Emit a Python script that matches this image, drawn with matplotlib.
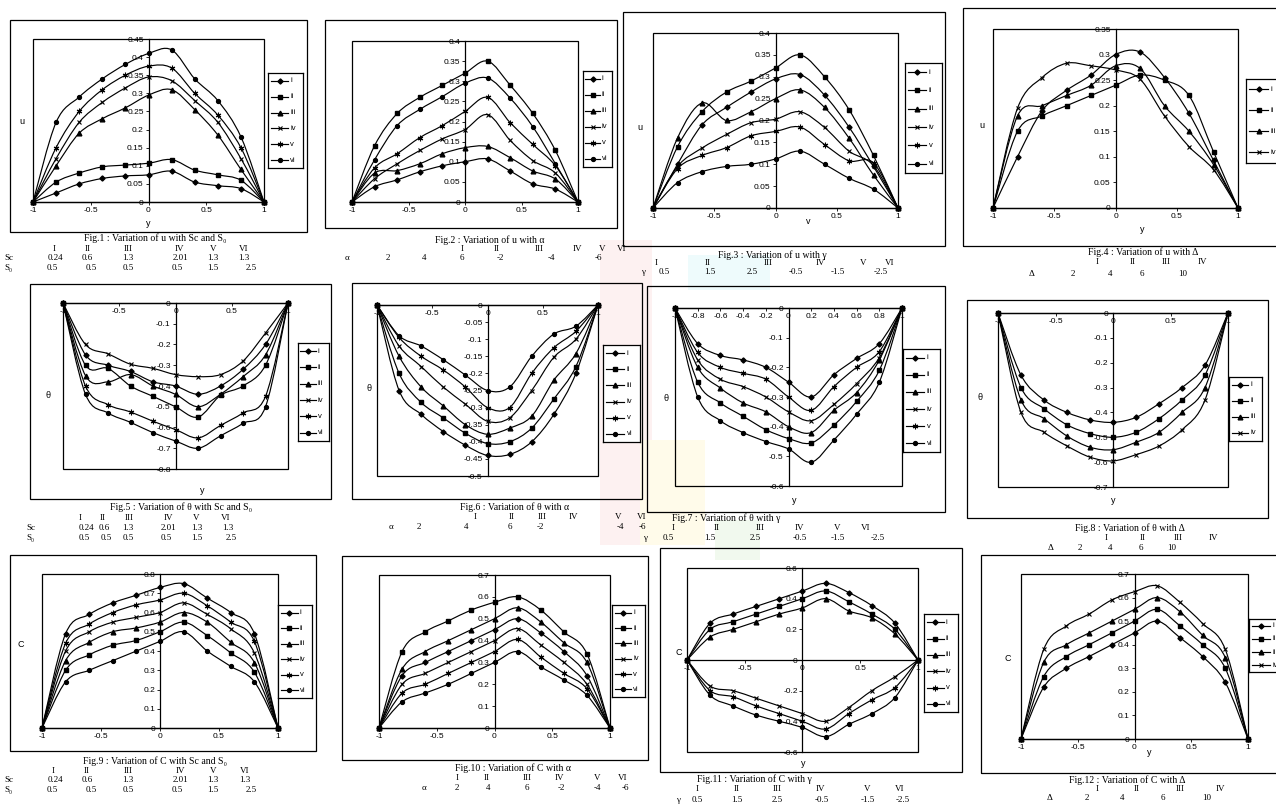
import numpy as np
import matplotlib
matplotlib.use('Agg')
import matplotlib.pyplot as plt
from matplotlib.path import Path
from matplotlib.patches import PathPatch, Rectangle
from matplotlib.ticker import MultipleLocator, FuncFormatter

# ---- data ---------------------------------------------------------------
y_pos = [-1, -0.8, -0.6, -0.4, -0.2, 0, 0.2, 0.4, 0.6, 0.8, 1]
labels6 = ['i', 'ii', 'iii', 'iv', 'v', 'vi']
labels4 = ['i', 'ii', 'iii', 'iv']

roman6 = ['I', 'II', 'III', 'IV', 'V', 'VI']
roman4 = ['I', 'II', 'III', 'IV']
sc_vals = ['0.24', '0.6', '1.3', '2.01', '1.3', '1.3']
s0_vals = ['0.5', '0.5', '0.5', '0.5', '1.5', '2.5']
alpha_vals = ['2', '4', '6', '-2', '-4', '-6']
gamma_vals = ['0.5', '1.5', '2.5', '-0.5', '-1.5', '-2.5']
delta_vals = ['2', '4', '6', '10']

# Fig.1  u vs y, Sc and S0
u_sc = [
    [0, 0.025, 0.05, 0.065, 0.072, 0.075, 0.085, 0.055, 0.045, 0.037, 0],
    [0, 0.055, 0.08, 0.097, 0.102, 0.107, 0.117, 0.088, 0.075, 0.06, 0],
    [0, 0.10, 0.19, 0.23, 0.26, 0.295, 0.31, 0.255, 0.185, 0.09, 0],
    [0, 0.12, 0.22, 0.275, 0.315, 0.345, 0.335, 0.28, 0.22, 0.12, 0],
    [0, 0.15, 0.25, 0.31, 0.35, 0.375, 0.37, 0.30, 0.24, 0.15, 0],
    [0, 0.22, 0.29, 0.34, 0.38, 0.41, 0.42, 0.34, 0.28, 0.18, 0],
]
# Fig.2  u vs y, alpha
u_alpha = [
    [0, 0.038, 0.055, 0.075, 0.09, 0.10, 0.107, 0.077, 0.045, 0.032, 0],
    [0, 0.14, 0.22, 0.26, 0.29, 0.32, 0.35, 0.29, 0.22, 0.128, 0],
    [0, 0.072, 0.078, 0.095, 0.12, 0.135, 0.138, 0.11, 0.077, 0.057, 0],
    [0, 0.058, 0.095, 0.128, 0.157, 0.18, 0.217, 0.153, 0.103, 0.072, 0],
    [0, 0.085, 0.12, 0.16, 0.19, 0.225, 0.26, 0.197, 0.143, 0.09, 0],
    [0, 0.105, 0.19, 0.23, 0.262, 0.295, 0.308, 0.258, 0.187, 0.095, 0],
]
# Fig.3  u vs y, gamma
u_gamma = [
    [0, 0.10, 0.19, 0.23, 0.265, 0.295, 0.305, 0.258, 0.185, 0.095, 0],
    [0, 0.14, 0.22, 0.265, 0.29, 0.32, 0.35, 0.30, 0.225, 0.12, 0],
    [0, 0.16, 0.24, 0.20, 0.22, 0.25, 0.27, 0.23, 0.16, 0.075, 0],
    [0, 0.095, 0.137, 0.168, 0.195, 0.203, 0.22, 0.184, 0.13, 0.097, 0],
    [0, 0.09, 0.12, 0.138, 0.165, 0.175, 0.185, 0.145, 0.108, 0.103, 0],
    [0, 0.058, 0.083, 0.095, 0.10, 0.112, 0.13, 0.10, 0.068, 0.043, 0],
]
# Fig.4  u vs y, Delta
u_delta = [
    [0, 0.10, 0.19, 0.23, 0.26, 0.30, 0.305, 0.255, 0.185, 0.093, 0],
    [0, 0.15, 0.18, 0.20, 0.22, 0.24, 0.26, 0.25, 0.22, 0.11, 0],
    [0, 0.18, 0.20, 0.22, 0.24, 0.278, 0.273, 0.20, 0.15, 0.085, 0],
    [0, 0.195, 0.255, 0.283, 0.278, 0.27, 0.252, 0.18, 0.12, 0.075, 0],
]
# Fig.5  theta vs y, Sc and S0
th_sc = [
    [0, -0.25, -0.30, -0.33, -0.38, -0.40, -0.44, -0.40, -0.32, -0.20, 0],
    [0, -0.30, -0.315, -0.40, -0.45, -0.50, -0.55, -0.445, -0.40, -0.30, 0],
    [0, -0.35, -0.38, -0.345, -0.40, -0.44, -0.50, -0.44, -0.355, -0.25, 0],
    [0, -0.20, -0.245, -0.295, -0.315, -0.345, -0.355, -0.345, -0.28, -0.145, 0],
    [0, -0.40, -0.49, -0.525, -0.57, -0.61, -0.65, -0.59, -0.53, -0.45, 0],
    [0, -0.44, -0.53, -0.575, -0.625, -0.665, -0.70, -0.64, -0.58, -0.50, 0],
]
# Fig.6  theta vs y, alpha
th_alpha = [
    [0, -0.25, -0.32, -0.37, -0.41, -0.44, -0.437, -0.40, -0.32, -0.20, 0],
    [0, -0.20, -0.285, -0.33, -0.375, -0.405, -0.40, -0.36, -0.275, -0.18, 0],
    [0, -0.15, -0.24, -0.295, -0.35, -0.378, -0.36, -0.325, -0.22, -0.142, 0],
    [0, -0.12, -0.18, -0.24, -0.29, -0.34, -0.33, -0.25, -0.153, -0.10, 0],
    [0, -0.095, -0.15, -0.19, -0.24, -0.30, -0.30, -0.20, -0.125, -0.077, 0],
    [0, -0.09, -0.12, -0.16, -0.205, -0.25, -0.24, -0.15, -0.085, -0.062, 0],
]
# Fig.7  theta vs y, gamma
th_gamma = [
    [0, -0.12, -0.16, -0.175, -0.20, -0.25, -0.30, -0.225, -0.17, -0.12, 0],
    [0, -0.25, -0.32, -0.365, -0.41, -0.44, -0.455, -0.395, -0.315, -0.21, 0],
    [0, -0.20, -0.27, -0.32, -0.35, -0.40, -0.42, -0.345, -0.285, -0.175, 0],
    [0, -0.175, -0.24, -0.265, -0.30, -0.35, -0.38, -0.325, -0.255, -0.167, 0],
    [0, -0.15, -0.20, -0.22, -0.24, -0.30, -0.345, -0.265, -0.20, -0.147, 0],
    [0, -0.30, -0.38, -0.42, -0.45, -0.475, -0.52, -0.445, -0.358, -0.25, 0],
]
# Fig.8  theta vs y, Delta
th_delta = [
    [0, -0.25, -0.35, -0.40, -0.43, -0.44, -0.42, -0.365, -0.30, -0.21, 0],
    [0, -0.30, -0.385, -0.45, -0.485, -0.50, -0.48, -0.425, -0.35, -0.25, 0],
    [0, -0.35, -0.425, -0.495, -0.54, -0.55, -0.52, -0.48, -0.40, -0.30, 0],
    [0, -0.40, -0.48, -0.535, -0.58, -0.595, -0.57, -0.535, -0.47, -0.35, 0],
]
# Fig.9  C vs y, Sc and S0
c_sc = [
    [0, 0.49, 0.59, 0.65, 0.69, 0.73, 0.75, 0.675, 0.60, 0.49, 0],
    [0, 0.30, 0.38, 0.43, 0.455, 0.50, 0.55, 0.48, 0.39, 0.29, 0],
    [0, 0.35, 0.445, 0.50, 0.52, 0.55, 0.60, 0.55, 0.445, 0.34, 0],
    [0, 0.40, 0.50, 0.55, 0.575, 0.60, 0.65, 0.59, 0.515, 0.39, 0],
    [0, 0.44, 0.54, 0.60, 0.64, 0.665, 0.70, 0.635, 0.55, 0.45, 0],
    [0, 0.24, 0.30, 0.35, 0.40, 0.45, 0.50, 0.40, 0.32, 0.24, 0],
]
# Fig.10 C vs y, alpha
c_alpha = [
    [0, 0.24, 0.30, 0.35, 0.40, 0.45, 0.50, 0.435, 0.35, 0.24, 0],
    [0, 0.35, 0.44, 0.49, 0.54, 0.575, 0.60, 0.54, 0.44, 0.34, 0],
    [0, 0.27, 0.35, 0.40, 0.45, 0.50, 0.55, 0.485, 0.39, 0.30, 0],
    [0, 0.20, 0.25, 0.30, 0.35, 0.40, 0.455, 0.38, 0.30, 0.20, 0],
    [0, 0.16, 0.20, 0.25, 0.30, 0.35, 0.405, 0.325, 0.25, 0.18, 0],
    [0, 0.12, 0.16, 0.20, 0.25, 0.30, 0.35, 0.28, 0.22, 0.15, 0],
]
# Fig.11 C vs y, gamma
c_gamma = [
    [0, 0.24, 0.30, 0.35, 0.40, 0.45, 0.50, 0.44, 0.355, 0.24, 0],
    [0, 0.20, 0.25, 0.30, 0.35, 0.40, 0.45, 0.38, 0.30, 0.20, 0],
    [0, 0.15, 0.20, 0.25, 0.30, 0.34, 0.40, 0.32, 0.275, 0.17, 0],
    [0, -0.17, -0.20, -0.25, -0.30, -0.35, -0.40, -0.31, -0.20, -0.11, 0],
    [0, -0.20, -0.24, -0.30, -0.35, -0.40, -0.45, -0.35, -0.26, -0.18, 0],
    [0, -0.23, -0.30, -0.36, -0.40, -0.44, -0.50, -0.42, -0.35, -0.245, 0],
]
# Fig.12 C vs y, Delta
c_delta = [
    [0, 0.22, 0.30, 0.35, 0.40, 0.45, 0.50, 0.43, 0.35, 0.24, 0],
    [0, 0.265, 0.35, 0.40, 0.45, 0.50, 0.55, 0.48, 0.40, 0.30, 0],
    [0, 0.325, 0.40, 0.45, 0.50, 0.55, 0.60, 0.54, 0.44, 0.345, 0],
    [0, 0.38, 0.48, 0.53, 0.59, 0.625, 0.65, 0.58, 0.49, 0.38, 0],
]

# ---- page geometry -------------------------------------------------------
W, H = 1276, 805
SANS = 'Liberation Sans'
SERIF = ['Liberation Serif', 'DejaVu Serif']

MARKERS = {
    'i': dict(marker='D', ms=2.6),
    'ii': dict(marker='s', ms=2.8),
    'iii': dict(marker='^', ms=3.4),
    'iv': dict(marker='x', ms=3.4, mew=0.8),
    'v': dict(marker=(6, 2, 0), ms=4.0, mew=0.8),
    'vi': dict(marker='o', ms=2.8),
}

fig = plt.figure(figsize=(W / 100, H / 100), dpi=100)


def frac(x0, y0, x1, y1):
    return [x0 / W, 1 - y1 / H, (x1 - x0) / W, (y1 - y0) / H]


def ptext(x, y, s, **kw):
    kw.setdefault('ha', 'center')
    kw.setdefault('va', 'center')
    fig.text(x / W, 1 - y / H, s, **kw)


def frame(x0, y0, x1, y1, lw=0.9):
    fig.add_artist(Rectangle((x0 / W, 1 - y1 / H), (x1 - x0) / W, (y1 - y0) / H,
                             transform=fig.transFigure, fill=False,
                             ec='black', lw=lw, zorder=1))


def smooth(ax, xs, ys):
    # Excel-style smoothed line: Catmull-Rom segments as cubic Beziers
    pts = np.column_stack([xs, ys]).astype(float)
    n = len(pts)
    verts, codes = [pts[0]], [Path.MOVETO]
    for k in range(n - 1):
        p0 = pts[k - 1] if k > 0 else pts[k]
        p1, p2 = pts[k], pts[k + 1]
        p3 = pts[k + 2] if k + 2 < n else pts[k + 1]
        verts += [p1 + (p2 - p0) / 6, p2 - (p3 - p1) / 6, p2]
        codes += [Path.CURVE4] * 3
    ax.add_patch(PathPatch(Path(verts, codes), fill=False, ec='black',
                           lw=0.85, zorder=3, clip_on=False))


def fmt(v, _):
    v = round(v, 3)
    return '0' if abs(v) < 1e-9 else f'{v:g}'


def panel(series, names, frame_px, inner, leg, ylim, ystep, xstep=0.5,
          ylab=None, xlab=None):
    frame(*frame_px)
    ax = fig.add_axes(frac(*inner))
    ax.set_xlim(-1, 1)
    ax.set_ylim(*ylim)
    ax.patch.set_alpha(0)
    for s in ('top', 'right'):
        ax.spines[s].set_visible(False)
    ax.spines['left'].set_position(('data', 0))
    ax.spines['bottom'].set_position(('data', 0))
    for s in ('left', 'bottom'):
        ax.spines[s].set_linewidth(0.9)
    ax.add_patch(Rectangle((0, 0), 1, 1, transform=ax.transAxes, fill=False,
                           ec='black', lw=0.9, clip_on=False, zorder=2))
    ax.xaxis.set_major_locator(MultipleLocator(xstep))
    ax.yaxis.set_major_locator(MultipleLocator(ystep))
    ax.xaxis.set_major_formatter(FuncFormatter(fmt))
    ax.yaxis.set_major_formatter(FuncFormatter(fmt))
    ax.tick_params(labelsize=6, length=2, width=0.6, pad=1.5, colors='black')
    for t in ax.get_xticklabels() + ax.get_yticklabels():
        t.set_fontfamily(SANS)
    for ys, nm in zip(series, names):
        smooth(ax, y_pos, ys)
        ax.plot(y_pos, ys, ls='none', color='black', mfc='black', mec='black',
                clip_on=False, zorder=4, **MARKERS[nm])
    # legend box
    lax = fig.add_axes(frac(*leg))
    lax.set_xlim(0, 1)
    lax.set_ylim(0, 1)
    lax.set_xticks([])
    lax.set_yticks([])
    for s in lax.spines.values():
        s.set_linewidth(0.9)
    lax.patch.set_facecolor('white')
    n = len(names)
    for k, nm in enumerate(names):
        yy = 1 - (k + 0.5) / n
        lax.plot([0.08, 0.33, 0.58], [yy] * 3, color='black', lw=0.85,
                 markevery=[1], mfc='black', mec='black', **MARKERS[nm])
        lax.text(0.64, yy, nm, fontsize=5.5, family=SANS, va='center', ha='left')
    if ylab:
        ptext(*ylab[:2], ylab[2], fontsize=6.5, family=SANS)
    if xlab:
        ptext(*xlab[:2], xlab[2], fontsize=6.5, family=SANS)
    return ax


def table(caption, cap_xy, rows):
    ptext(cap_xy[0], cap_xy[1], caption, fontsize=7, family=SERIF)
    for y, label_x, label, xs, vals in rows:
        if label:
            ptext(label_x, y, label, fontsize=6.5, family=SERIF, ha='left')
        for x, v in zip(xs, vals):
            ptext(x, y, v, fontsize=6.5, family=SERIF)


# faint watermark colours of the scanned page
for (x0, y0, x1, y1, c) in [(600, 240, 652, 545, '#fdf1f1'),
                            (688, 255, 770, 290, '#eefbfc'),
                            (640, 440, 705, 545, '#fffbea'),
                            (715, 520, 760, 560, '#f1f9ee')]:
    fig.add_artist(Rectangle((x0 / W, 1 - y1 / H), (x1 - x0) / W, (y1 - y0) / H,
                             transform=fig.transFigure, fc=c, ec='none', zorder=0))

# ---- row 1 ----
panel(u_sc, labels6, (10, 20, 307, 232), (33, 39, 264, 202), (268, 73, 303, 168),
      (0, 0.45), 0.05, ylab=(22, 122, 'u'), xlab=(148, 223, 'y'))
table('Fig.1 : Variation of u with Sc and S\u2080', (155, 238), [
    (249, 0, None, [54, 88, 128, 179, 213, 244], roman6),
    (258, 4, 'Sc', [55, 87, 128, 180, 213, 244], sc_vals),
    (268, 4, 'S\u2080', [52, 91, 128, 177, 213, 251], s0_vals)])

panel(u_alpha, labels6, (325, 20, 617, 228), (352, 41, 578, 202), (583, 71, 612, 167),
      (0, 0.4), 0.05)
table('Fig.2 : Variation of u with \u03b1', (490, 240), [
    (249, 0, None, [462, 497, 539, 577, 602, 622], roman6),
    (258, 345, '\u03b1', [388, 424, 462, 500, 551, 598], alpha_vals)])

panel(u_gamma, labels6, (623, 12, 945, 246), (653, 33, 898, 208), (905, 63, 942, 173),
      (0, 0.4), 0.05, ylab=(640, 128, 'u'), xlab=(808, 222, 'v'))
table('Fig.3 : Variation of u with \u03b3', (772, 255), [
    (263, 0, None, [656, 708, 768, 820, 863, 890], roman6),
    (272, 641, '\u03b3', [664, 710, 752, 796, 838, 881], gamma_vals)])

panel(u_delta, labels4, (963, 8, 1282, 246), (993, 29, 1238, 208), (1246, 79, 1284, 163),
      (0, 0.35), 0.05, ylab=(982, 126, 'u'), xlab=(1142, 230, 'y'))
table('Fig.4 : Variation of u with \u0394', (1143, 252), [
    (262, 0, None, [1097, 1133, 1166, 1202], roman4),
    (274, 1029, '\u0394', [1073, 1110, 1142, 1183], delta_vals)])

# ---- row 2 ----
panel(th_sc, labels6, (30, 284, 331, 499), (63, 303, 288, 469), (298, 343, 329, 441),
      (-0.8, 0), 0.1, ylab=(48, 396, '\u03b8'), xlab=(202, 490, 'y'))
table('Fig.5 : Variation of \u03b8 with Sc and S\u2080', (181, 507), [
    (518, 0, None, [80, 103, 129, 168, 196, 226], roman6),
    (528, 26, 'Sc', [86, 104, 128, 168, 197, 228], sc_vals),
    (538, 26, 'S\u2080', [84, 106, 128, 166, 197, 231], s0_vals)])

panel(th_alpha, labels6, (352, 283, 642, 499), (377, 305, 598, 476), (603, 345, 640, 442),
      (-0.5, 0), 0.05, ylab=(369, 388, '\u03b8'))
table('Fig.6 : Variation of \u03b8 with \u03b1', (515, 507), [
    (517, 0, None, [475, 512, 542, 573, 618, 642], roman6),
    (527, 389, '\u03b1', [419, 466, 510, 540, 620, 642], alpha_vals)])

panel(th_gamma, labels6, (647, 286, 945, 512), (675, 308, 902, 486), (903, 349, 940, 452),
      (-0.6, 0), 0.1, xstep=0.2, ylab=(666, 398, '\u03b8'), xlab=(794, 500, 'y'))
table('Fig.7 : Variation of \u03b8 with \u03b3', (726, 518), [
    (528, 0, None, [673, 717, 760, 799, 837, 866], roman6),
    (538, 643, '\u03b3', [668, 710, 755, 800, 838, 878], gamma_vals)])

panel(th_delta, labels4, (967, 300, 1268, 518), (998, 313, 1228, 487), (1229, 377, 1262, 441),
      (-0.7, 0), 0.1, ylab=(980, 397, '\u03b8'), xlab=(1113, 500, 'y'))
table('Fig.8 : Variation of \u03b8 with \u0394', (1130, 528), [
    (538, 0, None, [1106, 1143, 1178, 1213], roman4),
    (548, 1048, '\u0394', [1080, 1110, 1141, 1172], delta_vals)])

# ---- row 3 ----
panel(c_sc, labels6, (10, 555, 316, 751), (42, 574, 278, 728), (278, 605, 312, 698),
      (0, 0.8), 0.1, ylab=(21, 644, 'C'))
table('Fig.9 : Variation of C with Sc and S\u2080', (155, 761), [
    (771, 0, None, [53, 87, 128, 180, 213, 245], roman6),
    (780, 4, 'Sc', [55, 87, 128, 180, 213, 245], sc_vals),
    (790, 4, 'S\u2080', [52, 91, 128, 177, 213, 251], s0_vals)])

panel(c_alpha, labels6, (342, 556, 648, 760), (379, 575, 610, 728), (612, 605, 645, 697),
      (0, 0.7), 0.1)
table('Fig.10 : Variation of C with \u03b1', (513, 768), [
    (778, 0, None, [457, 487, 527, 559, 597, 623], roman6),
    (788, 422, '\u03b1', [457, 488, 527, 561, 597, 625], alpha_vals)])

panel(c_gamma, labels6, (660, 548, 962, 772), (687, 568, 918, 752), (924, 614, 958, 712),
      (-0.6, 0.6), 0.2, ylab=(679, 652, 'C'), xlab=(803, 763, 'y'))
table('Fig.11 : Variation of C with \u03b3', (754, 779), [
    (789, 0, None, [697, 737, 777, 820, 867, 900], roman6),
    (800, 676, '\u03b3', [697, 737, 777, 822, 868, 903], gamma_vals)])

panel(c_delta, labels4, (981, 555, 1282, 773), (1021, 574, 1248, 739), (1249, 619, 1286, 672),
      (0, 0.7), 0.1, ylab=(1008, 658, 'C'), xlab=(1149, 752, 'y'))
table('Fig.12 : Variation of C with \u0394', (1127, 780), [
    (789, 0, None, [1097, 1137, 1180, 1220], roman4),
    (798, 1047, '\u0394', [1087, 1122, 1163, 1207], delta_vals)])

fig.savefig('out.png', dpi=100)
